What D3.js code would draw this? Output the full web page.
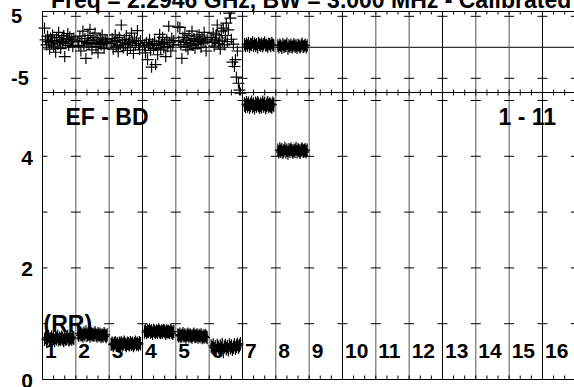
<!DOCTYPE html>
<html><head><meta charset="utf-8">
<script src="https://cdn.jsdelivr.net/npm/d3@7"></script>
<style>
body{margin:0;background:#fff}
svg{display:block}
text{font-family:"Liberation Sans",Arial,Helvetica,sans-serif;font-weight:bold;fill:#000}
</style>
</head><body><svg id="c" width="574" height="387"></svg>
<script>
// ---------- data ----------
const titleText = "Freq = 2.2946 GHz, BW = 3.000 MHz - Calibrated Data";
const baselineLabel = "EF - BD";
const rangeLabel = "1 - 11";
const polLabel = "(RR)";
const channels = ["1","2","3","4","5","6","7","8","9","10","11","12","13","14","15","16"];
const phaseTicks = [5, -5];
const phaseTickLabels = ["5", "-5"];
const ampTicks = [0, 1, 2, 3, 4, 5];
const ampTickLabels = [0, 2, 4];

// phase (degrees) per channel, channels 1-8
const phaseCh1 = [3.1,1.2,0.4,1.8,0.9,-0.3,1.5,0.7,2.0,0.2,1.1,-0.8,1.6,0.5,2.4,1.0,-0.2,1.3,0.8,1.9,-1.5,0.6,1.4,2.2,0.3,1.7,0.9,1.2,0.1,1.5];
const phaseCh2 = [1.0,0.3,1.8,-0.6,0.9,2.6,0.2,1.4,-1.8,0.7,1.9,0.5,2.9,1.1,-0.4,1.6,0.8,2.3,0.1,1.2,-0.9,0.6,1.5,0.4,2.0,0.9,-0.2,1.3,0.7,1.0];
const phaseCh3 = [0.6,1.4,-0.3,0.9,2.0,0.2,1.1,-0.7,1.6,0.4,3.6,0.8,-0.1,1.3,0.5,1.9,-0.5,0.7,1.2,0.0,2.3,0.9,-1.0,1.5,0.3,1.0,2.7,0.6,-0.4,1.1];
const phaseCh4 = [0.2,-0.9,0.8,-2.0,0.4,1.3,-0.5,-3.2,0.6,-0.2,1.0,-2.8,0.3,-1.2,0.9,2.1,-0.4,0.5,1.6,-0.1,0.7,-1.5,1.2,0.1,3.4,0.8,-0.6,1.5,0.4,1.1];
const phaseCh5 = [3.3,1.0,3.2,0.4,-1.8,1.6,0.8,2.2,0.1,1.3,-0.4,1.9,0.6,1.1,2.6,0.3,1.4,-0.2,0.9,1.7,0.5,2.0,1.2,0.0,1.5,0.7,2.4,1.0,-0.6,1.3];
const phaseCh6 = [1.6,0.8,2.3,0.2,1.2,2.0,3.6,0.6,1.5,-0.3,2.6,1.0,3.1,0.4,1.9,3.9,0.9,2.8,5.5,4.7,1.3,-2.4,0.5,-3.1,-2.0,-4.8,-0.6,-5.8,-6.9,-7.4];
const phaseCh7 = [0.5,0.2,0.6,0.3,0.7,0.1,0.5,0.4,0.8,0.2,0.6,0.3,0.5,0.0,0.7,0.4,0.3,0.6,0.2,0.5,0.8,0.3,0.4,0.1,0.6,0.5,0.2,0.7,0.4,0.3];
const phaseCh8 = [0.3,0.0,0.4,0.2,-0.1,0.5,0.1,0.3,0.2,0.6,-0.2,0.3,0.1,0.4,0.0,0.2,0.5,0.1,0.3,-0.1,0.4,0.2,0.0,0.3,0.6,0.1,0.2,0.4,0.0,0.3];
const phaseErr = [0.9,0.9,0.9,0.9,0.9,0.9,1.0,1.0];

// amplitude per channel, channels 1-8
const ampCh1 = [0.72,0.75,0.70,0.74,0.77,0.71,0.73,0.76,0.72,0.74,0.70,0.75,0.73,0.77,0.71,0.74,0.72,0.76,0.73,0.70,0.75,0.72,0.74,0.77,0.71,0.73,0.75,0.72,0.76,0.74];
const ampCh2 = [0.82,0.79,0.84,0.80,0.81,0.78,0.83,0.80,0.85,0.79,0.81,0.82,0.78,0.83,0.80,0.81,0.79,0.84,0.80,0.78,0.82,0.79,0.81,0.77,0.80,0.78,0.82,0.79,0.77,0.80];
const ampCh3 = [0.63,0.65,0.61,0.64,0.66,0.62,0.64,0.60,0.65,0.63,0.66,0.62,0.64,0.67,0.63,0.61,0.65,0.64,0.62,0.66,0.63,0.65,0.61,0.64,0.67,0.63,0.65,0.62,0.66,0.64];
const ampCh4 = [0.85,0.88,0.84,0.87,0.86,0.89,0.85,0.87,0.83,0.88,0.86,0.84,0.87,0.85,0.89,0.86,0.84,0.87,0.85,0.88,0.86,0.83,0.87,0.85,0.86,0.84,0.88,0.85,0.83,0.86];
const ampCh5 = [0.80,0.78,0.81,0.77,0.79,0.82,0.78,0.80,0.76,0.79,0.81,0.77,0.80,0.78,0.76,0.79,0.81,0.77,0.78,0.80,0.76,0.79,0.77,0.80,0.75,0.78,0.76,0.79,0.77,0.75];
const ampCh6 = [0.60,0.57,0.62,0.55,0.59,0.52,0.61,0.58,0.54,0.60,0.56,0.63,0.50,0.58,0.61,0.55,0.59,0.53,0.62,0.57,0.60,0.54,0.58,0.62,0.56,0.60,0.63,0.58,0.61,0.64];
const ampCh7 = [4.93,4.90,4.95,4.91,4.94,4.89,4.92,4.96,4.90,4.93,4.88,4.94,4.91,4.95,4.92,4.89,4.93,4.90,4.96,4.91,4.94,4.88,4.92,4.95,4.90,4.93,4.91,4.89,4.94,4.92];
const ampCh8 = [4.11,4.08,4.13,4.09,4.12,4.07,4.10,4.14,4.08,4.11,4.06,4.12,4.09,4.13,4.10,4.07,4.11,4.09,4.14,4.08,4.12,4.10,4.07,4.11,4.13,4.09,4.10,4.12,4.08,4.11];
const ampErr = [0.12,0.12,0.12,0.12,0.12,0.12,0.13,0.12];

const phaseData = [phaseCh1,phaseCh2,phaseCh3,phaseCh4,phaseCh5,phaseCh6,phaseCh7,phaseCh8];
const ampData = [ampCh1,ampCh2,ampCh3,ampCh4,ampCh5,ampCh6,ampCh7,ampCh8];

// ---------- layout ----------
const W = 574, H = 387;
const svg = d3.select("#c");
svg.append("rect").attr("width", W).attr("height", H).attr("fill", "#fff");

const x = d3.scaleLinear().domain([0, 16]).range([42.5, 575.8]);
const yTop = d3.scaleLinear().domain([-5, 5]).range([78.3, 16.3]);
const yBot = d3.scaleLinear().domain([0, 5]).range([379.5, 100.5]);
const topEdge = 11.5, midEdge = 92.5, botEdge = 379.5;

const frame = svg.append("g").attr("stroke", "#000").attr("stroke-width", 1).attr("fill", "none");

[topEdge, midEdge, botEdge].forEach(yy => {
  frame.append("line").attr("x1", x(0)).attr("x2", W + 5).attr("y1", yy).attr("y2", yy);
});
frame.append("line").attr("x1", x(0)).attr("x2", W + 5).attr("y1", yTop(0)).attr("y2", yTop(0));

d3.range(0, 17).forEach(k => {
  frame.append("line").attr("x1", x(k)).attr("x2", x(k)).attr("y1", topEdge).attr("y2", botEdge)
    .attr("stroke", k % 3 === 0 ? "#000" : "#555");
});

d3.range(0, 49).forEach(j => {
  const xx = x(j / 3);
  frame.append("line").attr("x1", xx).attr("x2", xx).attr("y1", topEdge).attr("y2", topEdge + 3);
  frame.append("line").attr("x1", xx).attr("x2", xx).attr("y1", midEdge - 3).attr("y2", midEdge + 3);
  frame.append("line").attr("x1", xx).attr("x2", xx).attr("y1", botEdge - 4).attr("y2", botEdge);
});

d3.range(0, 17).forEach(k => {
  const xx = x(k);
  const x1 = k === 0 ? xx : xx - 5;
  phaseTicks.forEach(v => {
    frame.append("line").attr("x1", x1).attr("x2", xx + 5).attr("y1", yTop(v)).attr("y2", yTop(v));
  });
  ampTicks.slice(1).forEach(v => {
    frame.append("line").attr("x1", x1).attr("x2", xx + 5).attr("y1", yBot(v)).attr("y2", yBot(v));
  });
});

// ---------- text ----------
svg.append("text").attr("x", 51).attr("y", 8).attr("font-size", 23).text(titleText);

svg.selectAll("text.pl").data(phaseTicks).enter().append("text")
  .attr("class", "pl").attr("x", 11).attr("y", d => yTop(d) + 7)
  .attr("font-size", 20).text((d, i) => phaseTickLabels[i]);

svg.selectAll("text.al").data(ampTickLabels).enter().append("text")
  .attr("class", "al").attr("x", 33).attr("y", d => yBot(d) + 8.5)
  .attr("text-anchor", "end").attr("font-size", 21).text(d => d);

svg.append("text").attr("x", 65.5).attr("y", 125).attr("font-size", 23).text(baselineLabel);
svg.append("text").attr("x", 556).attr("y", 125).attr("text-anchor", "end").attr("font-size", 23).text(rangeLabel);
svg.append("text").attr("x", 43.5).attr("y", 332).attr("font-size", 23).text(polLabel);

svg.selectAll("text.ch").data(channels).enter().append("text")
  .attr("class", "ch").attr("x", (d, i) => x(i) + 2.5).attr("y", 358)
  .attr("font-size", 21).text(d => d);

// ---------- data marks ----------
svg.append("clipPath").attr("id", "clipTop").append("rect")
  .attr("x", 0).attr("y", topEdge).attr("width", W).attr("height", 84);

function plusPath(xx, yy, hw, e0, e1) {
  return `M${xx - hw},${yy}H${xx + hw}M${xx},${e0}V${e1}`;
}

const gTop = svg.append("g").attr("clip-path", "url(#clipTop)")
  .attr("stroke", "#000").attr("stroke-width", 1.2).attr("fill", "none");
phaseData.forEach((vals, c) => {
  const n = vals.length;
  const hw = c < 6 ? 6 : 3;
  gTop.append("path").attr("d", vals.map((v, i) => {
    const xx = x(c + 0.06 + 0.88 * i / (n - 1));
    return plusPath(xx, yTop(v), hw, yTop(v + phaseErr[c]), yTop(v - phaseErr[c]));
  }).join(""));
});

const gBot = svg.append("g").attr("stroke", "#000").attr("stroke-width", 1.2).attr("fill", "none");
ampData.forEach((vals, c) => {
  const n = vals.length;
  gBot.append("path").attr("d", vals.map((v, i) => {
    const xx = x(c + 0.06 + 0.88 * i / (n - 1));
    return plusPath(xx, yBot(v), 3, yBot(v + ampErr[c]), yBot(v - ampErr[c]));
  }).join(""));
});
</script></body></html>
